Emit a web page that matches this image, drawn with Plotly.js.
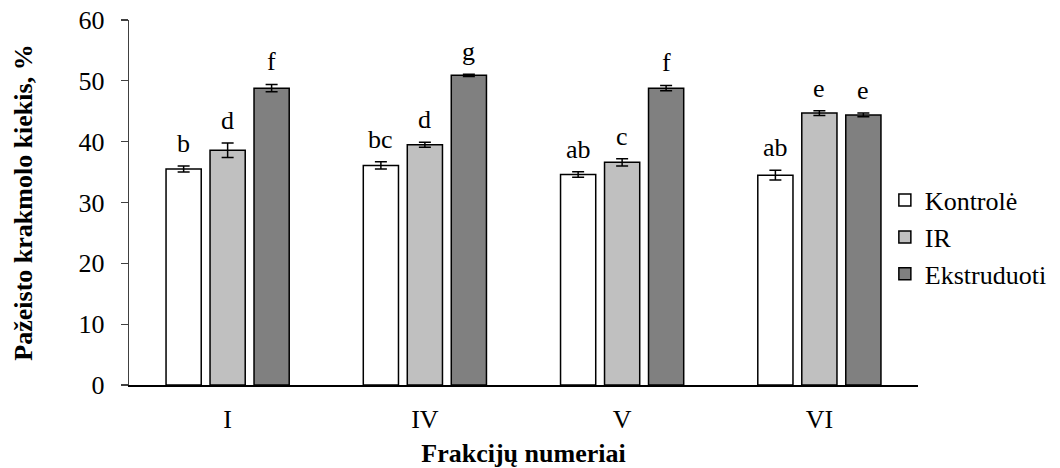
<!DOCTYPE html>
<html><head><meta charset="utf-8">
<script src="https://cdn.plot.ly/plotly-3.0.1.min.js"></script>
<style>body{margin:0;background:#fff}#chart{width:1060px;height:468px}</style>
</head><body><div id="chart"></div>
<script>
const categories = ["I", "IV", "V", "VI"];
const seriesNames = ["Kontrolė", "IR", "Ekstruduoti"];
const kontrole = [35.5, 36.1, 34.6, 34.5];
const kontroleErr = [0.5, 0.6, 0.45, 0.8];
const ir = [38.6, 39.5, 36.6, 44.7];
const irErr = [1.2, 0.4, 0.6, 0.4];
const ekstr = [48.8, 50.9, 48.8, 44.4];
const ekstrErr = [0.6, 0.2, 0.45, 0.3];
const kontroleLetters = ["b", "bc", "ab", "ab"];
const irLetters = ["d", "d", "c", "e"];
const ekstrLetters = ["f", "g", "f", "e"];

const fam = "Liberation Serif";
const FS = 26;
const colors = ["#ffffff", "#c0c0c0", "#808080"];
const vals = [kontrole, ir, ekstr];
const errs = [kontroleErr, irErr, ekstrErr];
const letters = [kontroleLetters, irLetters, ekstrLetters];

const traces = vals.map((v, i) => ({
  type: "bar", name: seriesNames[i], x: categories, y: v,
  marker: {color: colors[i], line: {color: "#000", width: 1.5}},
  error_y: {type: "data", array: errs[i], visible: true, color: "#000", thickness: 1.5, width: 6},
  offsetgroup: String(i)
}));

const annotations = [];
const slot = (1 - 0.331) / 3;
vals.forEach((v, i) => {
  v.forEach((val, j) => {
    annotations.push({
      xref: "x", yref: "y",
      x: j + (i - 1) * slot, y: val + errs[i][j],
      text: letters[i][j], showarrow: false,
      yanchor: "bottom", yshift: 6,
      font: {family: fam, size: FS, color: "#000"}
    });
  });
});

const layout = {
  width: 1060, height: 468,
  margin: {l: 129, r: 142, t: 20, b: 83, autoexpand: false},
  paper_bgcolor: "#fff", plot_bgcolor: "#fff",
  barmode: "group", bargap: 0.331, bargroupgap: 0.2,
  font: {family: fam, size: FS, color: "#000"},
  showlegend: true,
  legend: {x: 0.958, xanchor: "left", y: 0.405, yanchor: "middle",
    font: {family: fam, size: FS, color: "#000"}, itemwidth: 30, tracegroupgap: 0, bgcolor: "rgba(0,0,0,0)"},
  xaxis: {
    type: "category", range: [-0.5, 3.5],
    showline: true, linecolor: "#000", linewidth: 2,
    ticks: "outside", ticklen: 10, tickcolor: "rgba(0,0,0,0)",
    tickfont: {family: fam, size: FS, color: "#000"},
    title: {text: "<b>Frakcijų numeriai</b>", font: {family: fam, size: FS, color: "#000"}, standoff: 11},
    showgrid: false, zeroline: false
  },
  yaxis: {
    range: [0, 60], dtick: 10,
    showline: true, linecolor: "#404040", linewidth: 1.3,
    ticks: "outside", ticklen: 7, tickcolor: "#404040", tickwidth: 1.3,
    ticklabelstandoff: 11,
    tickfont: {family: fam, size: FS, color: "#000"},
    title: {text: "<b>Pažeisto krakmolo kiekis, %</b>", font: {family: fam, size: FS, color: "#000"}, standoff: 38},
    showgrid: false, zeroline: false
  },
  annotations: annotations
};
Plotly.newPlot("chart", traces, layout, {displayModeBar: false, staticPlot: true});
</script></body></html>
